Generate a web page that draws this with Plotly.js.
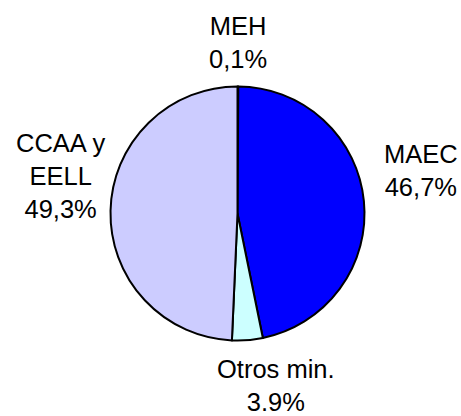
<!DOCTYPE html>
<html>
<head>
<meta charset="utf-8">
<script src="https://cdn.plot.ly/plotly-3.0.1.min.js"></script>
<style>html,body{margin:0;padding:0;background:#fff;}#chart{width:461px;height:416px;}</style>
</head>
<body>
<div id="chart"></div>
<script>
// Data
var categories = ["MEH", "MAEC", "Otros min.", "CCAA y EELL"];
var values = [0.1, 46.7, 3.9, 49.3];
var labelTexts = ["MEH<br>0,1%", "MAEC<br>46,7%", "Otros min.<br>3.9%", "CCAA y<br>EELL<br>49,3%"];
var colors = ["#9999FF", "#0000FF", "#CCFFFF", "#CCCCFF"];

// Label positions (paper coordinates)
var labelX = [0.516, 0.914, 0.599, 0.132];
var labelY = [0.898, 0.589, 0.074, 0.576];

var W = 461, H = 416;
var cx = 237.5, cy = 213.5, r = 127;

var trace = {
  type: "pie",
  labels: categories,
  values: values,
  sort: false,
  direction: "clockwise",
  rotation: 0,
  textinfo: "none",
  hoverinfo: "none",
  showlegend: false,
  marker: { colors: colors, line: { color: "#000000", width: 2 } },
  domain: {
    x: [(cx - r) / W, (cx + r) / W],
    y: [(H - cy - r) / H, (H - cy + r) / H]
  }
};

var annotations = labelTexts.map(function (t, i) {
  return {
    text: t, xref: "paper", yref: "paper",
    x: labelX[i], y: labelY[i],
    xanchor: "center", yanchor: "middle",
    showarrow: false, align: "center",
    font: { family: "Arial, 'Liberation Sans', sans-serif", size: 25.5, color: "#000000" }
  };
});

var layout = {
  width: W, height: H,
  margin: { l: 0, r: 0, t: 0, b: 0 },
  paper_bgcolor: "#ffffff",
  plot_bgcolor: "#ffffff",
  showlegend: false,
  annotations: annotations
};

Plotly.newPlot("chart", [trace], layout, { displayModeBar: false, staticPlot: true });
</script>
</body>
</html>
